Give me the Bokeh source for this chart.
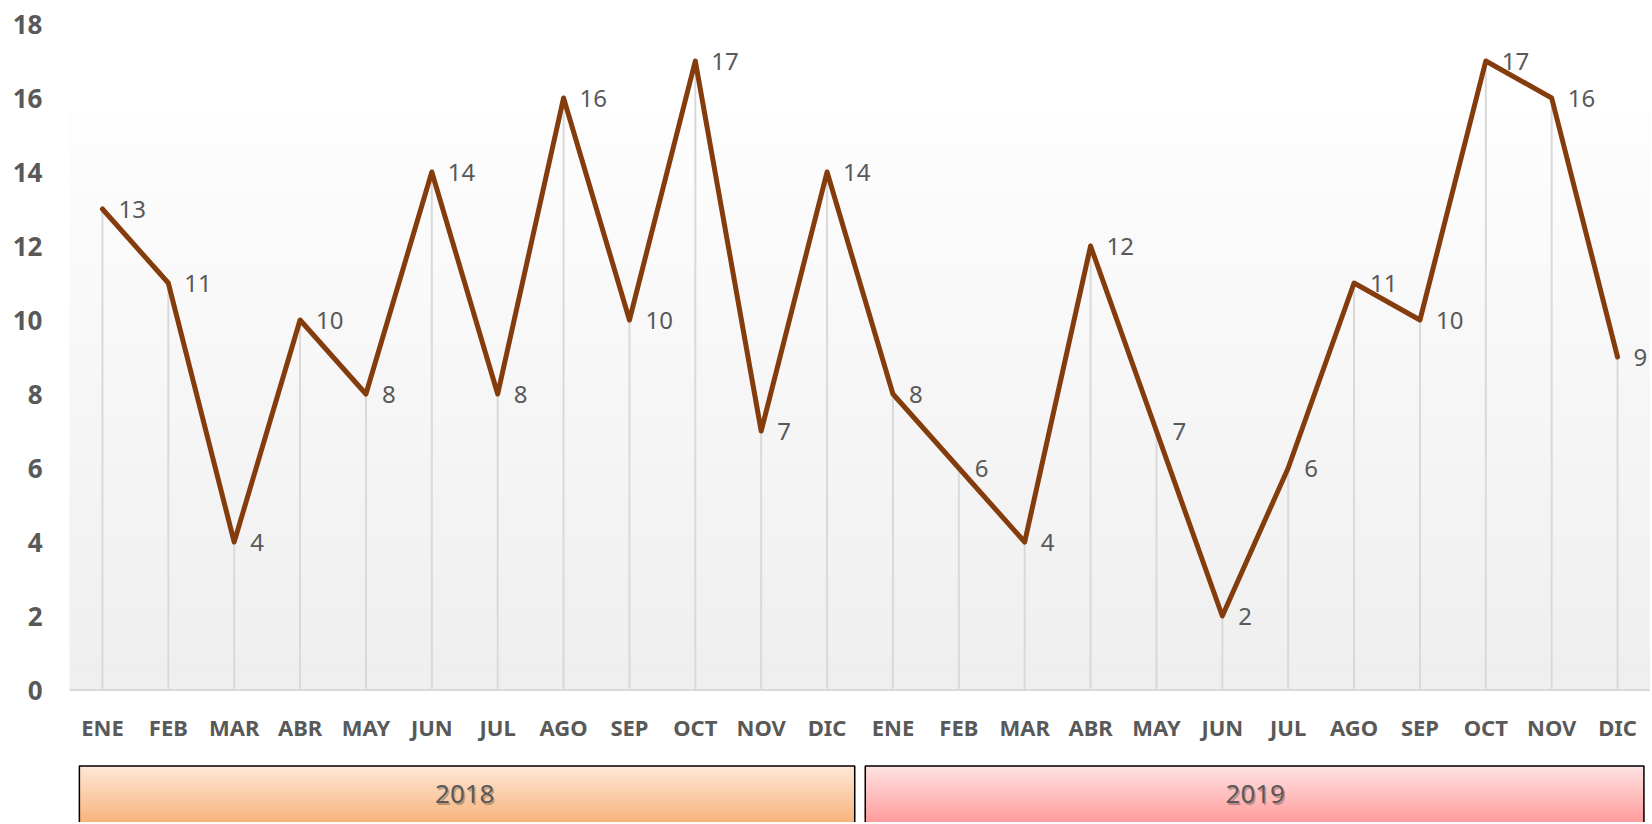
import numpy as np
from bokeh.plotting import figure
from bokeh.models import Range1d, FixedTicker, ColumnDataSource, Span
from bokeh.core.properties import value
from bokeh.embed import file_html
from bokeh.resources import INLINE

# ---- data ----
months = ["ENE", "FEB", "MAR", "ABR", "MAY", "JUN", "JUL", "AGO", "SEP", "OCT", "NOV", "DIC",
          "ENE", "FEB", "MAR", "ABR", "MAY", "JUN", "JUL", "AGO", "SEP", "OCT", "NOV", "DIC"]
values = [13, 11, 4, 10, 8, 14, 8, 16, 10, 17, 7, 14,
          8, 6, 4, 12, 7, 2, 6, 11, 10, 17, 16, 9]
years = ["2018", "2019"]
year_start = [0, 12]
year_end = [11, 23]
y_ticks = [0, 2, 4, 6, 8, 10, 12, 14, 16, 18]

FONT = "Noto Sans"
GREY = "#595959"

x = list(range(len(months)))
src = ColumnDataSource(dict(x=x, y=values, lab=[str(v) for v in values], m=months))

Y_MIN = -3.58
p = figure(width=1650, height=822, output_backend="svg", toolbar_location=None,
           x_range=Range1d(-0.5, 23.5), y_range=Range1d(Y_MIN, 18.5),
           min_border_left=69, min_border_right=0, min_border_top=5, min_border_bottom=0)
p.outline_line_color = None
p.xgrid.visible = False
p.ygrid.visible = False
p.xaxis.visible = False
p.background_fill_color = "white"
p.border_fill_color = "white"

yax = p.yaxis[0]
yax.ticker = FixedTicker(ticks=y_ticks)
yax.axis_line_color = None
yax.major_tick_line_color = None
yax.minor_tick_line_color = None
yax.major_tick_out = 0
yax.major_label_standoff = 27
yax.major_label_text_font = FONT
yax.major_label_text_font_style = "bold"
yax.major_label_text_font_size = "26px"
yax.major_label_text_color = GREY


def ramp(c_from, c_to, n):
    a = np.array([int(c_from[i:i + 2], 16) for i in (1, 3, 5)])
    b = np.array([int(c_to[i:i + 2], 16) for i in (1, 3, 5)])
    out = []
    for i in range(n):
        t = (i + 0.5) / n
        c = (a + (b - a) * t).astype(int)
        out.append("#%02x%02x%02x" % tuple(c))
    return out


# plot-area gradient background (decoration)
bg_top = 15.64
n = 60
edges = np.linspace(0, bg_top, n + 1)
cols = ramp("#efefef", "#fefefe", n)
p.quad(left=-0.5, right=23.5, bottom=edges[:-1], top=edges[1:], fill_color=cols,
       line_color=cols, line_width=1)

# axis line at zero
p.add_layout(Span(location=0, dimension="width", line_color="#d9d9d9", line_width=2))

# drop lines
p.segment(x0="x", y0=0, x1="x", y1="y", source=src, line_color="#d9d9d9", line_width=2)

# main line
p.line("x", "y", source=src, line_color="#843c0c", line_width=5, line_join="round", line_cap="round")

# data labels
p.text("x", "y", text="lab", source=src, x_offset=16, text_align="left", text_baseline="middle",
       text_font=value(FONT), text_font_size="24px", text_color=GREY)

# month labels
p.text("x", -1.0, text="m", source=src, text_align="center", text_baseline="middle",
       text_font=value(FONT), text_font_style="bold", text_font_size="22px", text_color=GREY)

# year boxes
box_top = -2.05
box_bot = -3.8
grad = {"2018": ("#fee9da", "#f9b47c"), "2019": ("#ffe4e4", "#ff9d9d")}
insets = [(0.15, 0.08), (0.08, 0.1)]
for yr, s, e, (il, ir) in zip(years, year_start, year_end, insets):
    left = s - 0.5 + il
    right = e + 0.5 - ir
    top_c, bot_c = grad[yr]
    m = 30
    ed = np.linspace(box_top, Y_MIN, m + 1)
    cc = ramp(top_c, bot_c, m)
    p.quad(left=left, right=right, top=ed[:-1], bottom=ed[1:], fill_color=cc,
           line_color=cc, line_width=1)
    p.quad(left=[left], right=[right], top=[box_top], bottom=[box_bot], fill_color=None,
           line_color="black", line_width=1.5)
    cx = (s + e) / 2.0
    p.text([cx], [-2.82], text=[yr], x_offset=1.5, y_offset=1.5, text_align="center", text_baseline="middle",
           text_font=value(FONT), text_font_size="26px", text_color="#000000", text_alpha=0.25)
    p.text([cx], [-2.82], text=[yr], text_align="center", text_baseline="middle",
           text_font=value(FONT), text_font_size="26px", text_color=GREY)

open("out.html", "w").write(file_html(p, INLINE))
